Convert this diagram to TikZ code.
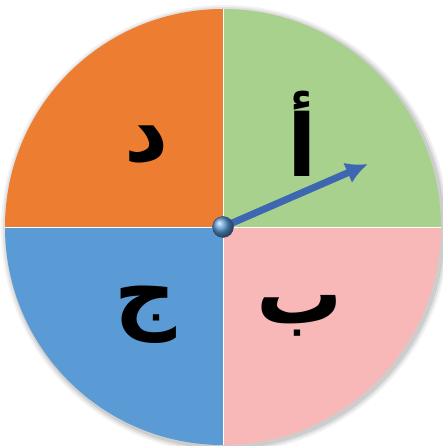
\documentclass[tikz,border=0pt]{standalone}
\usepackage{fontspec}
\usepackage{tikz}
\usetikzlibrary{arrows.meta}
\TeXXeTstate=1
\newfontfamily\arabicfont[Script=Arabic]{DejaVu Sans}
\definecolor{spingreen}{HTML}{A9D18E}
\definecolor{spinorange}{HTML}{ED7D31}
\definecolor{spinblue}{HTML}{5B9BD5}
\definecolor{spinpink}{HTML}{F8B8B8}
\definecolor{needleblue}{HTML}{4472C4}
\tikzset{
  sector/.style={draw=white, line width=0.8pt},
  letterlabel/.style={
    font=\arabicfont\bfseries\fontsize{86}{90}\selectfont,
    text=black,
    inner sep=0pt
  },
  needle/.style={
    -{Latex[length=22pt,width=22pt]},
    line width=7pt,
    draw=needleblue!90!black
  },
  hubball/.style={
    circle,
    minimum size=21pt,
    inner sep=0pt,
    ball color=spinblue,
    draw=needleblue!60!black,
    line width=0.4pt
  }
}

\begin{document}
\begin{tikzpicture}[x=1pt, y=1pt]
    \useasboundingbox (-223,-219) rectangle (220,227);
    % soft shadow
    \foreach \s/\o in {6/0.05, 4/0.07, 2/0.09} {
        \fill[black, opacity=\o] (2,-2) circle (218+\s);
    }
    % the four quarters
    \fill[spingreen]  (0,0) -- (218,0) arc (0:90:218) -- cycle;
    \fill[spinorange] (0,0) -- (0,218) arc (90:180:218) -- cycle;
    \fill[spinblue]   (0,0) -- (-218,0) arc (180:270:218) -- cycle;
    \fill[spinpink]   (0,0) -- (0,-218) arc (270:360:218) -- cycle;
    \draw[sector] (-218,0) -- (218,0);
    \draw[sector] (0,-218) -- (0,218);

    \node[letterlabel] (alef) at (79,93) {\beginR أ\endR};
    \node[letterlabel] (dal)  at (-76,82) {\beginR د\endR};
    \node[letterlabel] (jim)  at (-78,-88) {\beginR ج\endR};
    \node[letterlabel] (ba)   at (77,-89) {\beginR ب\endR};

    \coordinate (hub) at (0,0);
    \coordinate (tip) at (145,63);
    \draw[needle] (hub) -- (tip);
    \node[hubball] (pivot) at (hub) {};
\end{tikzpicture}
\end{document}
